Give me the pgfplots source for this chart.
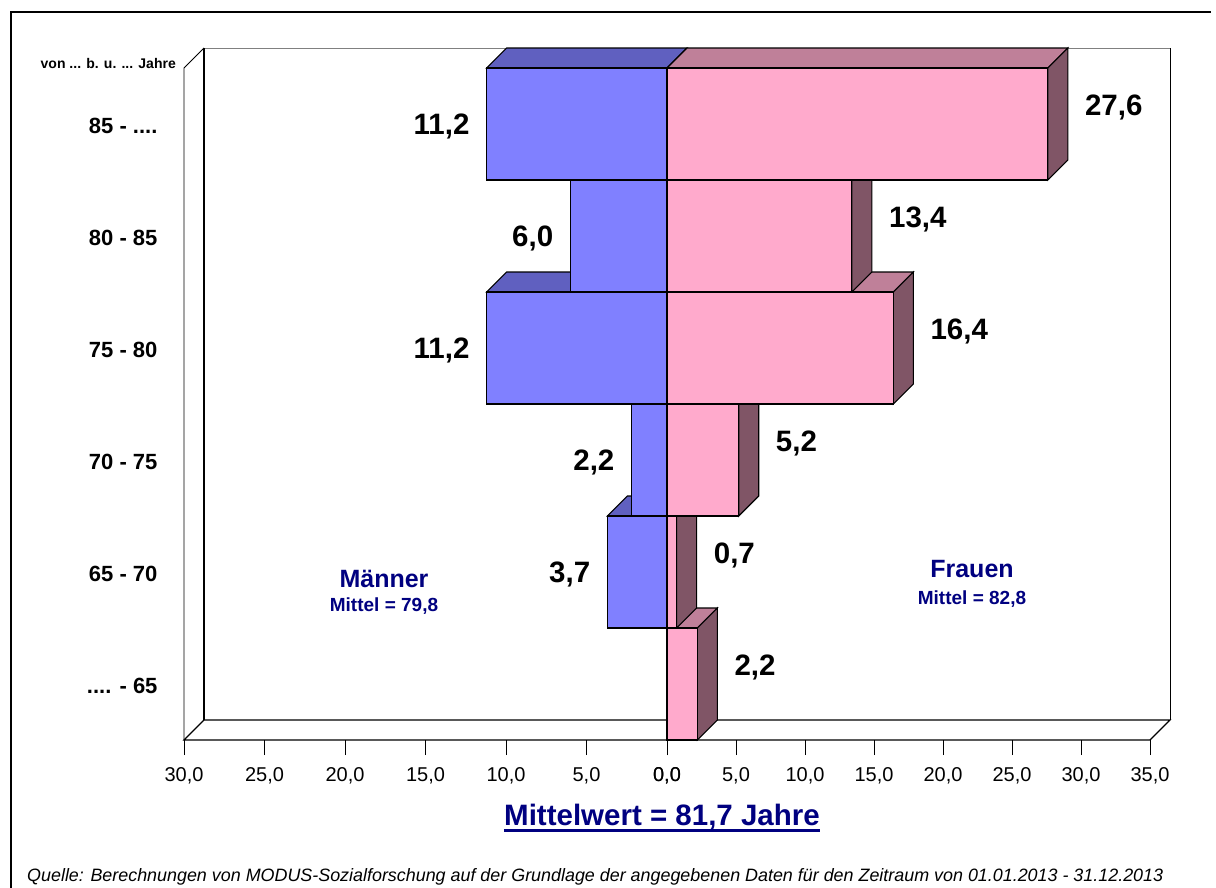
\documentclass[border=0pt]{standalone}
\usepackage{pgfplots}
\pgfplotsset{compat=1.18}
\usepackage{pgfplotstable}
\usepackage{fontspec}
\setmainfont{Liberation Sans}

\definecolor{menfront}{RGB}{128,128,255}
\definecolor{mentop}{RGB}{96,96,192}
\definecolor{womfront}{RGB}{255,170,204}
\definecolor{womside}{RGB}{128,85,102}
\definecolor{womtop}{RGB}{191,128,153}
\definecolor{navy}{RGB}{0,0,128}

% open end of an age band (kept out of \foreach's reach)
\newcommand*\dts{....}

% share per age group (row 0 = ".... - 65", row 5 = "85 - ....")
\pgfplotstableread{
row m    f
0   0    2.2
1   3.7  0.7
2   2.2  5.2
3   11.2 16.4
4   6.0  13.4
5   11.2 27.6
}\pyr

% depth of the 3D boxes (20bp) in axis units
\def\dy{0.178571}
\def\dxm{1.242236}
\def\dxf{1.449275}

\pgfplotsset{
  pyramid/.style={
    scale only axis, width=483bp, height=672bp,
    ymin=0, ymax=6, clip=false,
    axis line style={draw=none},
    tick pos=left, tick align=outside,
    major tick length=15bp,
    xtick style={black, line width=0.8bp},
    ytick style={draw=none},
    x tick label style={font=\fontsize{20bp}{22bp}\selectfont,
      anchor=north, inner sep=0pt, yshift=-12bp,
      /pgf/number format/.cd, fixed, fixed zerofill, precision=1,
      use comma, assume math mode=true, /tikz/.cd},
  },
}
\tikzset{
  vlabel/.style={font=\fontsize{29.5bp}{32bp}\selectfont\bfseries, inner sep=0pt,
    /pgf/number format/.cd, fixed, fixed zerofill, precision=1,
    use comma, assume math mode=true, /tikz/.cd},
  face/.style={draw=black, line width=1.1bp},
}

\begin{document}
\begin{tikzpicture}
\useasboundingbox (0,0) rectangle (1216bp,-888bp);

% outer frame
\draw[line width=2.2bp] (11bp,-890bp) -- (11bp,-12bp) -- (1211bp,-12bp);

% walls and floor
\begin{scope}[x=1bp,y=-1bp]
  \draw[line width=0.8bp] (184,740) -- (184,68) -- (204,48);
  \draw[gray, line width=1bp] (204,48) -- (1170,48);
  \draw[line width=0.8bp] (1170,48) -- (1170,720);
  \draw[line width=1.5bp] (204,48) -- (204,720);
  \draw[line width=1.1bp] (184,740) -- (1150,740) -- (1170,720) -- (204,720) -- cycle;
\end{scope}

% men (left half)
\begin{axis}[pyramid, at={(184bp,-740bp)}, anchor=south west,
  xmin=0, xmax=30, x dir=reverse, xtick={0,5,...,30},
  ytick={0.5,1.5,2.5,3.5,4.5,5.5},
  yticklabels={{\dts{} - 65}, {65 - 70}, {70 - 75}, {75 - 80}, {80 - 85}, {85 - \dts}},
  y tick label style={font=\fontsize{22bp}{24bp}\selectfont\bfseries, xshift=-8bp, yshift=-2bp},
]
\pgfplotsinvokeforeach{1,2,3,4,5}{
  \pgfplotstablegetelem{#1}{m}\of\pyr
  \let\pv\pgfplotsretval
  \pgfmathsetmacro\pvd{\pv-\dxm}
  \pgfmathsetmacro\ya{#1+1}
  \pgfmathsetmacro\yb{#1+1+\dy}
  \addplot[face, fill=mentop] coordinates {(\pv,\ya) (0,\ya) (-\dxm,\yb) (\pvd,\yb)} -- cycle;
}
\addplot[xbar, bar width=1, bar shift=0pt, face, fill=menfront,
  skip coords between index={0}{1}]
  table[x=m, y expr=\thisrow{row}+0.5] {\pyr};
\pgfplotsinvokeforeach{1,2,3,4,5}{
  \pgfplotstablegetelem{#1}{m}\of\pyr
  \edef\tmp{\noexpand\node[vlabel, anchor=base east, xshift=-17bp, yshift=-10.5bp]
    at (axis cs:\pgfplotsretval,#1.5) {\noexpand\pgfmathprintnumber{\pgfplotsretval}};}
  \tmp
}
\end{axis}

% women (right half)
\begin{axis}[pyramid, at={(667bp,-740bp)}, anchor=south west,
  xmin=0, xmax=35, xtick={0,5,...,35}, ytick=\empty]
\pgfplotsinvokeforeach{0,1,2,3,4,5}{
  \pgfplotstablegetelem{#1}{f}\of\pyr
  \let\pv\pgfplotsretval
  \pgfmathsetmacro\pvd{\pv+\dxf}
  \pgfmathsetmacro\ya{#1+1}
  \pgfmathsetmacro\yb{#1+1+\dy}
  \pgfmathsetmacro\yc{#1+\dy}
  \addplot[face, fill=womtop] coordinates {(0,\ya) (\pv,\ya) (\pvd,\yb) (\dxf,\yb)} -- cycle;
  \addplot[face, fill=womside] coordinates {(\pv,#1) (\pvd,\yc) (\pvd,\yb) (\pv,\ya)} -- cycle;
}
\addplot[xbar, bar width=1, bar shift=0pt, face, fill=womfront]
  table[x=f, y expr=\thisrow{row}+0.5] {\pyr};
\pgfplotsinvokeforeach{0,1,2,3,4,5}{
  \pgfplotstablegetelem{#1}{f}\of\pyr
  \edef\tmp{\noexpand\node[vlabel, anchor=base west, xshift=37bp, yshift=8.5bp]
    at (axis cs:\pgfplotsretval,#1.5) {\noexpand\pgfmathprintnumber{\pgfplotsretval}};}
  \tmp
}
\end{axis}

% texts
\begin{scope}[x=1bp,y=-1bp]
  \node[anchor=base east, inner sep=0pt, font=\fontsize{14bp}{16bp}\selectfont\bfseries]
    at (176,68) {von ... b. u. ... Jahre};
  \node[anchor=base, inner sep=0pt, text=navy, font=\fontsize{25bp}{27bp}\selectfont\bfseries]
    at (384,587) {Männer};
  \node[anchor=base, inner sep=0pt, text=navy, font=\fontsize{19bp}{21bp}\selectfont\bfseries]
    at (384,611) {Mittel = 79,8};
  \node[anchor=base, inner sep=0pt, text=navy, font=\fontsize{25bp}{27bp}\selectfont\bfseries]
    at (972,577) {Frauen};
  \node[anchor=base, inner sep=0pt, text=navy, font=\fontsize{19bp}{21bp}\selectfont\bfseries]
    at (972,604) {Mittel = 82,8};
  \node[anchor=base, inner sep=0pt, text=navy, font=\fontsize{29.5bp}{32bp}\selectfont\bfseries]
    (mw) at (662,825) {Mittelwert = 81,7 Jahre};
  \draw[navy, line width=2.6bp] ([yshift=-5.5bp]mw.base west) -- ([yshift=-5.5bp]mw.base east);
  \node[anchor=base west, inner sep=0pt, font=\fontsize{17.9bp}{20bp}\selectfont\itshape]
    at (27,881) {Quelle: Berechnungen von MODUS-Sozialforschung auf der Grundlage der angegebenen Daten für den Zeitraum von 01.01.2013 - 31.12.2013};
\end{scope}
\end{tikzpicture}
\end{document}
